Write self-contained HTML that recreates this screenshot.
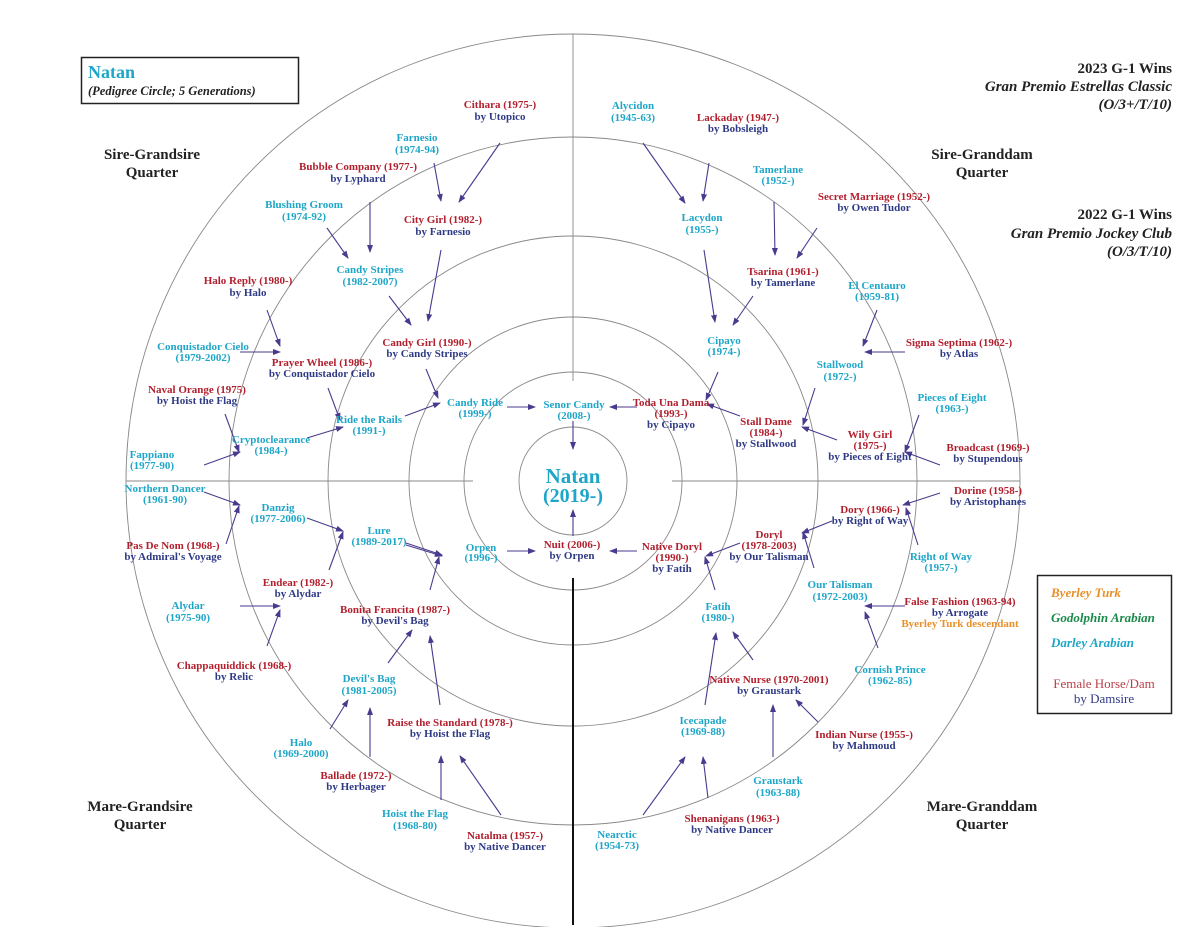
<!DOCTYPE html>
<html><head><meta charset="utf-8"><style>
html,body{margin:0;padding:0;background:#fff}
svg{display:block}
text{font-family:"Liberation Serif",serif;font-weight:bold;font-size:11px;text-anchor:middle}
.c{fill:#1ea6c8}.r{fill:#b21f2d}.b{fill:#2f3a85}.o{fill:#e8902a}
.q{fill:#222;font-size:15px}
.h{fill:#222;font-size:15px;text-anchor:end}
.i{font-style:italic}
</style></head><body>
<svg width="1200" height="927" viewBox="0 0 1200 927" xmlns="http://www.w3.org/2000/svg">
<defs><marker id="a" markerWidth="8" markerHeight="6" refX="7" refY="3" orient="auto" markerUnits="userSpaceOnUse"><path d="M0,0 L8,3 L0,6 z" fill="#4a3a8e"/></marker></defs>
<g fill="none" stroke="#888" stroke-width="0.9">
<circle cx="573" cy="481" r="54"/><circle cx="573" cy="481" r="109"/><circle cx="573" cy="481" r="164"/>
<circle cx="573" cy="481" r="245"/><circle cx="573" cy="481" r="344"/><circle cx="573" cy="481" r="447"/>
<line x1="126" y1="481" x2="473" y2="481"/><line x1="672" y1="481" x2="1020" y2="481"/>
<line x1="573" y1="34" x2="573" y2="381"/>
</g>
<line x1="573" y1="578" x2="573" y2="925" stroke="#111" stroke-width="2"/>
<g stroke="#4a3a8e" stroke-width="1.1" marker-end="url(#a)">
<line x1="500" y1="143" x2="459" y2="202"/><line x1="434" y1="163" x2="441" y2="201"/>
<line x1="370" y1="202" x2="370" y2="252"/><line x1="327" y1="228" x2="348" y2="258"/>
<line x1="441" y1="250" x2="428" y2="321"/><line x1="389" y1="296" x2="411" y2="325"/>
<line x1="267" y1="310" x2="280" y2="346"/><line x1="240" y1="352" x2="280" y2="352"/>
<line x1="426" y1="369" x2="438" y2="398"/><line x1="328" y1="388" x2="340" y2="420"/>
<line x1="225" y1="414" x2="239" y2="452"/><line x1="204" y1="465" x2="240" y2="452"/>
<line x1="307" y1="438" x2="343" y2="427"/><line x1="405" y1="416" x2="440" y2="403"/>
<line x1="507" y1="407" x2="535" y2="407"/><line x1="637" y1="407" x2="610" y2="407"/>
<line x1="573" y1="421" x2="573" y2="449"/><line x1="573" y1="536" x2="573" y2="510"/>
<line x1="507" y1="551" x2="535" y2="551"/><line x1="637" y1="551" x2="610" y2="551"/>
<line x1="204" y1="492" x2="240" y2="505"/><line x1="226" y1="544" x2="239" y2="506"/>
<line x1="307" y1="518" x2="343" y2="531"/><line x1="329" y1="570" x2="343" y2="532"/>
<line x1="406" y1="543" x2="442" y2="555"/><line x1="406" y1="545" x2="442" y2="556"/>
<line x1="430" y1="590" x2="439" y2="557"/>
<line x1="240" y1="606" x2="280" y2="606"/><line x1="267" y1="646" x2="280" y2="610"/>
<line x1="388" y1="663" x2="412" y2="630"/><line x1="440" y1="705" x2="430" y2="636"/>
<line x1="330" y1="729" x2="348" y2="700"/><line x1="370" y1="757" x2="370" y2="708"/>
<line x1="441" y1="800" x2="441" y2="756"/><line x1="501" y1="815" x2="460" y2="756"/>
<line x1="643" y1="143" x2="685" y2="203"/><line x1="709" y1="163" x2="703" y2="201"/>
<line x1="774" y1="202" x2="775" y2="255"/><line x1="817" y1="228" x2="797" y2="258"/>
<line x1="704" y1="250" x2="715" y2="322"/><line x1="753" y1="296" x2="733" y2="325"/>
<line x1="877" y1="310" x2="863" y2="346"/><line x1="905" y1="352" x2="865" y2="352"/>
<line x1="718" y1="372" x2="706" y2="400"/><line x1="740" y1="416" x2="707" y2="404"/>
<line x1="815" y1="388" x2="803" y2="425"/><line x1="837" y1="440" x2="802" y2="427"/>
<line x1="919" y1="415" x2="905" y2="452"/><line x1="940" y1="465" x2="905" y2="452"/>
<line x1="940" y1="493" x2="903" y2="505"/><line x1="918" y1="545" x2="906" y2="508"/>
<line x1="832" y1="521" x2="802" y2="533"/><line x1="814" y1="568" x2="803" y2="532"/>
<line x1="740" y1="543" x2="706" y2="556"/><line x1="715" y1="590" x2="705" y2="557"/>
<line x1="753" y1="660" x2="733" y2="632"/><line x1="705" y1="705" x2="716" y2="633"/>
<line x1="878" y1="648" x2="865" y2="612"/><line x1="905" y1="606" x2="865" y2="606"/>
<line x1="818" y1="722" x2="796" y2="700"/><line x1="773" y1="757" x2="773" y2="705"/>
<line x1="643" y1="815" x2="685" y2="757"/><line x1="708" y1="798" x2="703" y2="757"/>
</g>
<rect x="81.5" y="57.5" width="217" height="46" fill="none" stroke="#222" stroke-width="1.5"/>
<text x="88" y="78" class="c" style="text-anchor:start;font-size:18px">Natan</text>
<text x="88" y="95" class="i" style="text-anchor:start;font-size:12.5px;fill:#222">(Pedigree Circle; 5 Generations)</text>
<text x="1172" y="73" class="h">2023 G-1 Wins</text>
<text x="1172" y="91" class="h i">Gran Premio Estrellas Classic</text>
<text x="1172" y="109" class="h i">(O/3+/T/10)</text>
<text x="1172" y="219" class="h">2022 G-1 Wins</text>
<text x="1172" y="238" class="h i">Gran Premio Jockey Club</text>
<text x="1172" y="256" class="h i">(O/3/T/10)</text>
<text x="152" y="159" class="q">Sire-Grandsire</text><text x="152" y="177" class="q">Quarter</text>
<text x="982" y="159" class="q">Sire-Granddam</text><text x="982" y="177" class="q">Quarter</text>
<text x="140" y="811" class="q">Mare-Grandsire</text><text x="140" y="829" class="q">Quarter</text>
<text x="982" y="811" class="q">Mare-Granddam</text><text x="982" y="829" class="q">Quarter</text>
<rect x="1037.5" y="575.5" width="134" height="138" fill="none" stroke="#222" stroke-width="1.5"/>
<text x="1051" y="597" class="i" style="text-anchor:start;font-size:13px;fill:#e8902a">Byerley Turk</text>
<text x="1051" y="622" class="i" style="text-anchor:start;font-size:13px;fill:#1a8a4a">Godolphin Arabian</text>
<text x="1051" y="647" class="i" style="text-anchor:start;font-size:13px;fill:#1ea6c8">Darley Arabian</text>
<text x="1104" y="688" style="font-weight:normal;font-size:13px;fill:#b8404a">Female Horse/Dam</text>
<text x="1104" y="703" style="font-weight:normal;font-size:13px;fill:#2f3a85">by Damsire</text>
<text x="573" y="483" class="c" style="font-size:21px">Natan</text>
<text x="573" y="502" class="c" style="font-size:20px">(2019-)</text>
<text x="500" y="108" class="r">Cithara (1975-)</text><text x="500" y="120" class="b">by Utopico</text>
<text x="417" y="141" class="c">Farnesio</text><text x="417" y="153" class="c">(1974-94)</text>
<text x="358" y="170" class="r">Bubble Company (1977-)</text><text x="358" y="182" class="b">by Lyphard</text>
<text x="443" y="223" class="r">City Girl (1982-)</text><text x="443" y="235" class="b">by Farnesio</text>
<text x="304" y="208" class="c">Blushing Groom</text><text x="304" y="220" class="c">(1974-92)</text>
<text x="370" y="273" class="c">Candy Stripes</text><text x="370" y="285" class="c">(1982-2007)</text>
<text x="248" y="284" class="r">Halo Reply (1980-)</text><text x="248" y="296" class="b">by Halo</text>
<text x="203" y="350" class="c">Conquistador Cielo</text><text x="203" y="361" class="c">(1979-2002)</text>
<text x="322" y="366" class="r">Prayer Wheel (1986-)</text><text x="322" y="377" class="b">by Conquistador Cielo</text>
<text x="427" y="346" class="r">Candy Girl (1990-)</text><text x="427" y="357" class="b">by Candy Stripes</text>
<text x="197" y="393" class="r">Naval Orange (1975)</text><text x="197" y="404" class="b">by Hoist the Flag</text>
<text x="271" y="443" class="c">Cryptoclearance</text><text x="271" y="454" class="c">(1984-)</text>
<text x="369" y="423" class="c">Ride the Rails</text><text x="369" y="434" class="c">(1991-)</text>
<text x="475" y="406" class="c">Candy Ride</text><text x="475" y="417" class="c">(1999-)</text>
<text x="574" y="408" class="c">Senor Candy</text><text x="574" y="419" class="c">(2008-)</text>
<text x="152" y="458" class="c">Fappiano</text><text x="152" y="469" class="c">(1977-90)</text>
<text x="165" y="492" class="c">Northern Dancer</text><text x="165" y="503" class="c">(1961-90)</text>
<text x="278" y="511" class="c">Danzig</text><text x="278" y="522" class="c">(1977-2006)</text>
<text x="379" y="534" class="c">Lure</text><text x="379" y="545" class="c">(1989-2017)</text>
<text x="173" y="549" class="r">Pas De Nom (1968-)</text><text x="173" y="560" class="b">by Admiral's Voyage</text>
<text x="481" y="551" class="c">Orpen</text><text x="481" y="561" class="c">(1996-)</text>
<text x="572" y="548" class="r">Nuit (2006-)</text><text x="572" y="559" class="b">by Orpen</text>
<text x="298" y="586" class="r">Endear (1982-)</text><text x="298" y="597" class="b">by Alydar</text>
<text x="188" y="609" class="c">Alydar</text><text x="188" y="621" class="c">(1975-90)</text>
<text x="395" y="613" class="r">Bonita Francita (1987-)</text><text x="395" y="624" class="b">by Devil's Bag</text>
<text x="234" y="669" class="r">Chappaquiddick (1968-)</text><text x="234" y="680" class="b">by Relic</text>
<text x="369" y="682" class="c">Devil's Bag</text><text x="369" y="694" class="c">(1981-2005)</text>
<text x="450" y="726" class="r">Raise the Standard (1978-)</text><text x="450" y="737" class="b">by Hoist the Flag</text>
<text x="301" y="746" class="c">Halo</text><text x="301" y="757" class="c">(1969-2000)</text>
<text x="356" y="779" class="r">Ballade (1972-)</text><text x="356" y="790" class="b">by Herbager</text>
<text x="415" y="817" class="c">Hoist the Flag</text><text x="415" y="829" class="c">(1968-80)</text>
<text x="505" y="839" class="r">Natalma (1957-)</text><text x="505" y="850" class="b">by Native Dancer</text>
<text x="633" y="109" class="c">Alycidon</text><text x="633" y="121" class="c">(1945-63)</text>
<text x="738" y="121" class="r">Lackaday (1947-)</text><text x="738" y="132" class="b">by Bobsleigh</text>
<text x="778" y="173" class="c">Tamerlane</text><text x="778" y="184" class="c">(1952-)</text>
<text x="702" y="221" class="c">Lacydon</text><text x="702" y="233" class="c">(1955-)</text>
<text x="874" y="200" class="r">Secret Marriage (1952-)</text><text x="874" y="211" class="b">by Owen Tudor</text>
<text x="783" y="275" class="r">Tsarina (1961-)</text><text x="783" y="286" class="b">by Tamerlane</text>
<text x="877" y="289" class="c">El Centauro</text><text x="877" y="300" class="c">(1959-81)</text>
<text x="724" y="344" class="c">Cipayo</text><text x="724" y="355" class="c">(1974-)</text>
<text x="959" y="346" class="r">Sigma Septima (1962-)</text><text x="959" y="357" class="b">by Atlas</text>
<text x="840" y="368" class="c">Stallwood</text><text x="840" y="380" class="c">(1972-)</text>
<text x="952" y="401" class="c">Pieces of Eight</text><text x="952" y="412" class="c">(1963-)</text>
<text x="671" y="406" class="r">Toda Una Dama</text><text x="671" y="417" class="r">(1993-)</text><text x="671" y="428" class="b">by Cipayo</text>
<text x="766" y="425" class="r">Stall Dame</text><text x="766" y="436" class="r">(1984-)</text><text x="766" y="447" class="b">by Stallwood</text>
<text x="870" y="438" class="r">Wily Girl</text><text x="870" y="449" class="r">(1975-)</text><text x="870" y="460" class="b">by Pieces of Eight</text>
<text x="988" y="451" class="r">Broadcast (1969-)</text><text x="988" y="462" class="b">by Stupendous</text>
<text x="988" y="494" class="r">Dorine (1958-)</text><text x="988" y="505" class="b">by Aristophanes</text>
<text x="870" y="513" class="r">Dory (1966-)</text><text x="870" y="524" class="b">by Right of Way</text>
<text x="769" y="538" class="r">Doryl</text><text x="769" y="549" class="r">(1978-2003)</text><text x="769" y="560" class="b">by Our Talisman</text>
<text x="672" y="550" class="r">Native Doryl</text><text x="672" y="561" class="r">(1990-)</text><text x="672" y="572" class="b">by Fatih</text>
<text x="941" y="560" class="c">Right of Way</text><text x="941" y="571" class="c">(1957-)</text>
<text x="840" y="588" class="c">Our Talisman</text><text x="840" y="600" class="c">(1972-2003)</text>
<text x="960" y="605" class="r">False Fashion (1963-94)</text><text x="960" y="616" class="b">by Arrogate</text><text x="960" y="627" class="o">Byerley Turk descendant</text>
<text x="718" y="610" class="c">Fatih</text><text x="718" y="621" class="c">(1980-)</text>
<text x="890" y="673" class="c">Cornish Prince</text><text x="890" y="684" class="c">(1962-85)</text>
<text x="769" y="683" class="r">Native Nurse (1970-2001)</text><text x="769" y="694" class="b">by Graustark</text>
<text x="864" y="738" class="r">Indian Nurse (1955-)</text><text x="864" y="749" class="b">by Mahmoud</text>
<text x="703" y="724" class="c">Icecapade</text><text x="703" y="735" class="c">(1969-88)</text>
<text x="778" y="784" class="c">Graustark</text><text x="778" y="796" class="c">(1963-88)</text>
<text x="732" y="822" class="r">Shenanigans (1963-)</text><text x="732" y="833" class="b">by Native Dancer</text>
<text x="617" y="838" class="c">Nearctic</text><text x="617" y="849" class="c">(1954-73)</text>
</svg>
</body></html>
